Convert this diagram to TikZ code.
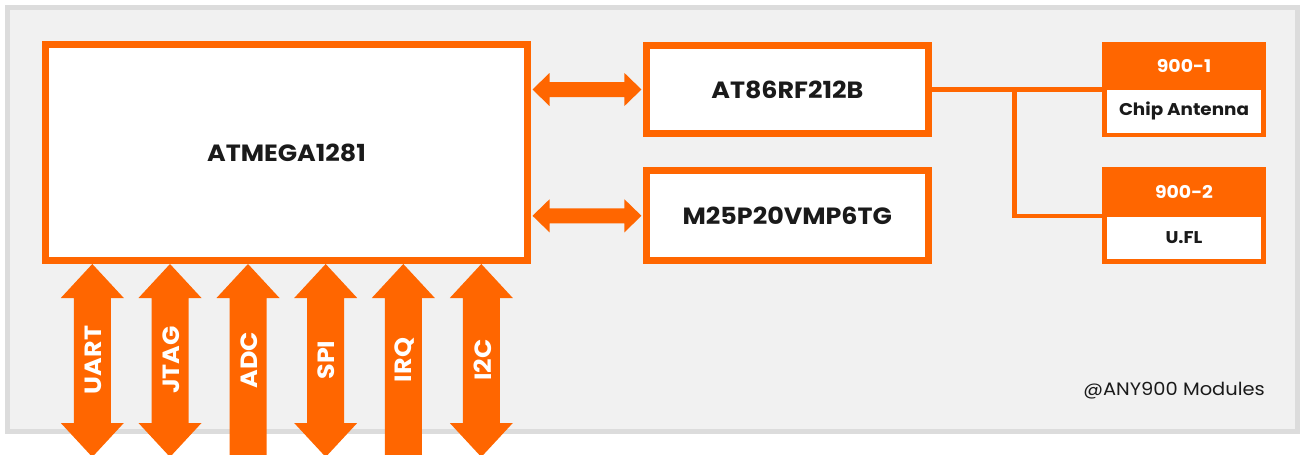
\documentclass[tikz,border=0pt]{standalone}
\usepackage{fontspec}
\setmainfont{Poppins}[FakeStretch=1.08]
\usetikzlibrary{calc}
\definecolor{org}{HTML}{FF6600}
\definecolor{panelfill}{HTML}{F1F1F1}
\definecolor{panelline}{HTML}{DCDCDC}
\definecolor{ink}{HTML}{1A1A1A}
\tikzset{
  chip/.style={draw=org, line width=7pt, fill=white, inner sep=0pt, font=\bfseries\fontsize{23.5}{26}\selectfont, text=ink},
  antout/.style={fill=org, inner sep=0pt, minimum width=163.4pt},
  antin/.style={fill=white, inner sep=0pt, minimum width=153.4pt, minimum height=42.7pt, font=\bfseries\fontsize{17}{19}\selectfont, text=ink},
  anthead/.style={font=\bfseries\fontsize{17.5}{19}\selectfont, text=white, inner sep=0pt},
  blk/.style={fill=org},
  lbl/.style={rotate=90, font=\bfseries\fontsize{23.5}{25}\selectfont, text=white, inner sep=0pt},
  wire/.style={draw=org, line width=4.5pt},
}
\begin{document}
\begin{tikzpicture}[x=1pt, y=-1pt]
\useasboundingbox (0,0) rectangle (1301,455);
\clip (0,0) rectangle (1301,455);
% panel
\draw[panelline, line width=5pt, fill=panelfill] (7.5,7.5) rectangle (1297.5,431);
% boxes
\node[chip, minimum width=482pt, minimum height=216pt] (atm) at (286.5,152.5) {ATMEGA1281};
\node[chip, minimum width=281.7pt, minimum height=88.6pt] (rf) at (787.3,89.5) {AT86RF212B};
\node[chip, minimum width=281.7pt, minimum height=90pt] (fl) at (787.3,215.8) {M25P20VMP6TG};
% antenna boxes
\node[antout, minimum height=95.6pt] (a1) at (1184,89.5) {};
\node[antin] (a1b) at (1184,111.4) {Chip Antenna};
\node[anthead] (a1h) at (1184,66) {900-1};
\node[antout, minimum height=97pt] (a2) at (1184,215.8) {};
\node[antin] (a2b) at (1184,238) {U.FL};
\node[anthead] (a2h) at (1184,192.3) {900-2};
% wires
\coordinate (br) at (1014.5,89.5);
\draw[wire] (rf.east) -- (a1.west);
\draw[wire] (br) |- (a2.west);
% horizontal double arrows
\foreach \b in {rf,fl}{
  \fill[blk] (atm.east |- \b.west) ++(1.5,0) -- ++(17,-16.5) -- ++(0,9) -- ($(\b.west)+(-18.5,-7.5)$) -- ++(0,-9) -- ++(17,16.5) -- ++(-17,16.5) -- ++(0,-9) -- ($(atm.east |- \b.west)+(18.5,7.5)$) -- ++(0,9) -- cycle;
}
% vertical arrows
\foreach \n/\x in {u/92.3, j/170, s/325.7, i2/481.3}{
  \coordinate (\n) at (\x,264);
  \fill[blk] (\n) -- ++(31.5,34) -- ++(-13,0) -- ++(0,125) -- ++(13,0) -- ++(-31.5,34) -- ++(-31.5,-34) -- ++(13,0) -- ++(0,-125) -- ++(-13,0) -- cycle;
}
\foreach \n/\x in {ad/248, iq/403.3}{
  \coordinate (\n) at (\x,264);
  \fill[blk] (\n) -- ++(31.5,34) -- ++(-13,0) -- ++(0,160) -- ++(-37,0) -- ++(0,-160) -- ++(-13,0) -- cycle;
}
\node[lbl] (lu) at (93.5,360) {UART};
\node[lbl] (lj) at (171,360) {JTAG};
\node[lbl] (lad) at (249,360) {ADC};
\node[lbl] (ls) at (326.7,360) {SPI};
\node[lbl] (liq) at (404.3,360) {IRQ};
\node[lbl] (li2) at (482.3,360) {I2C};
% footer
\node[anchor=east, inner sep=0pt, font=\fontsize{18}{20}\selectfont, text=ink] (ft) at (1265,391) {@ANY900 Modules};
\end{tikzpicture}
\end{document}
